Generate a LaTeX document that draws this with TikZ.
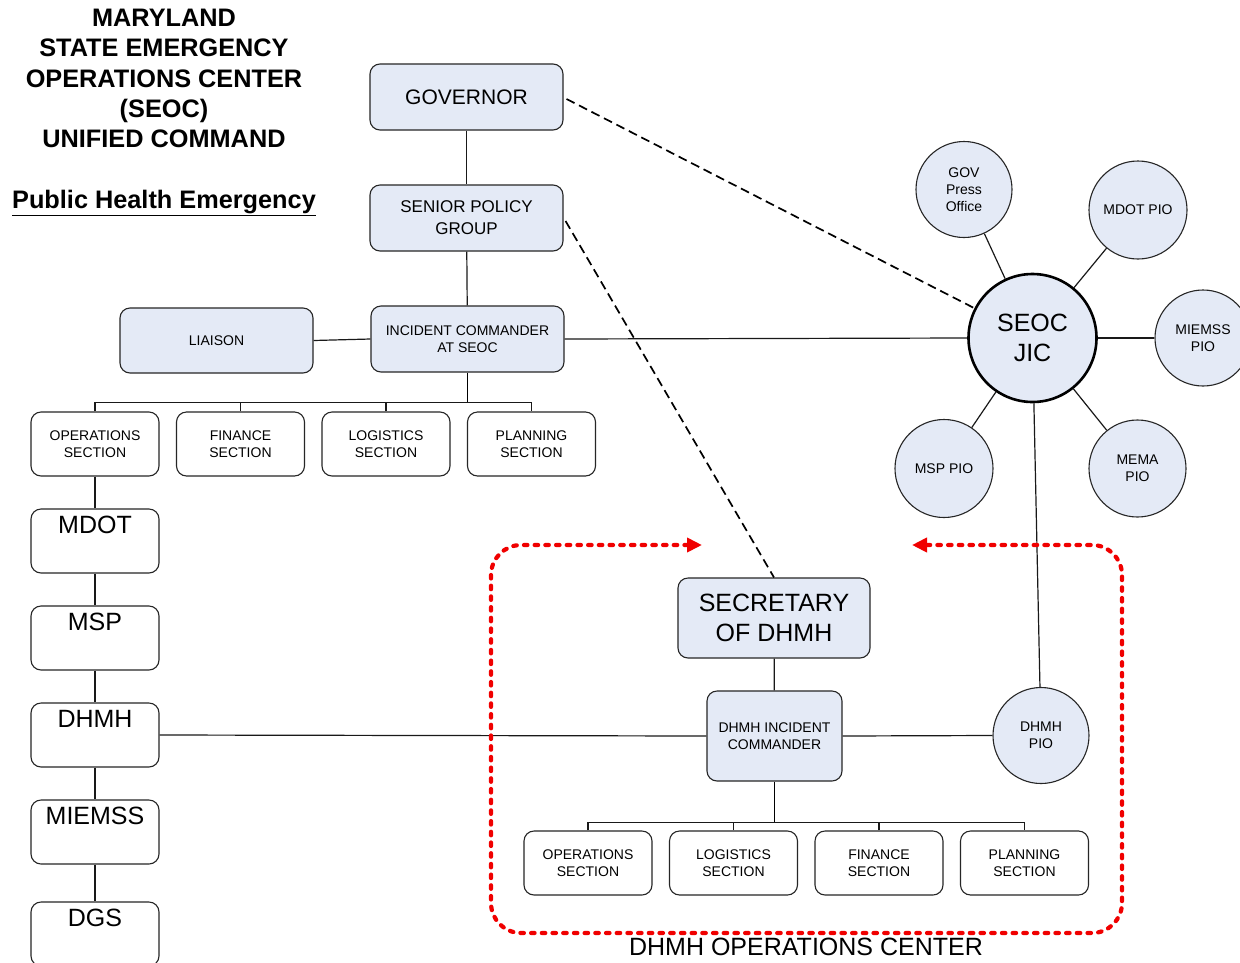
\documentclass[tikz,border=0pt]{standalone}
\usepackage{fontspec}
\setmainfont{Liberation Sans}
\usetikzlibrary{arrows.meta,calc}
\definecolor{lb}{RGB}{228,234,246}
\definecolor{rd}{RGB}{240,0,0}
\begin{document}
\begin{tikzpicture}[x=1pt,y=-1pt,
  bluebox/.style={draw=black!85,line width=1.1pt,rounded corners=10pt,fill=lb,align=center,inner sep=0pt},
  whitebox/.style={draw=black!85,line width=1.1pt,rounded corners=10pt,fill=white,align=center,inner sep=0pt,minimum width=128pt,minimum height=64pt,font=\fontsize{14}{17}\selectfont},
  agency/.style={draw=black!85,line width=1.1pt,rounded corners=10pt,fill=white,inner sep=0pt,minimum width=128pt,minimum height=64pt},
  pio/.style={draw=black!85,line width=1.1pt,circle,fill=lb,align=center,inner sep=0pt,font=\fontsize{14}{17}\selectfont},
  conn/.style={draw=black!90,line width=1.2pt},
  busline/.style={draw=black,line width=1.8pt},
  dashlink/.style={draw=black,line width=1.7pt,dash pattern=on 9pt off 5pt},
  reddot/.style={draw=rd,line width=4.2pt,line cap=round,dash pattern=on 3.5pt off 7.2pt,rounded corners=30pt}
]
\useasboundingbox (0,0) rectangle (1240,962);
\fill[white] (0,0) rectangle (1240,962);

% Title
\node[anchor=north,inner sep=0pt,align=center,font=\fontsize{25.3}{30.3}\selectfont\bfseries] (title) at (164,9)
  {MARYLAND\\STATE EMERGENCY\\OPERATIONS CENTER\\(SEOC)\\UNIFIED COMMAND};
\node[anchor=base,inner sep=0pt,font=\fontsize{25.3}{28}\selectfont\bfseries] (phe) at (164,208) {\underline{Public Health Emergency}};

% Top command
\node[bluebox,minimum width=193pt,minimum height=66pt,font=\fontsize{21}{25}\selectfont] (gov) at (466.5,97) {GOVERNOR};
\node[bluebox,minimum width=193pt,minimum height=66pt,font=\fontsize{17}{22}\selectfont] (spg) at (466.5,218) {SENIOR POLICY\\GROUP};
\node[bluebox,minimum width=193pt,minimum height=66pt,font=\fontsize{14}{17}\selectfont] (ic) at (467.5,339) {INCIDENT COMMANDER\\AT SEOC};
\node[bluebox,minimum width=193pt,minimum height=65pt,font=\fontsize{14}{17}\selectfont] (liaison) at (216.5,340.5) {LIAISON};

% Sections SEOC
\node[whitebox] (ops1) at (95,444) {OPERATIONS\\SECTION};
\node[whitebox] (fin1) at (240.5,444) {FINANCE\\SECTION};
\node[whitebox] (log1) at (386,444) {LOGISTICS\\SECTION};
\node[whitebox] (plan1) at (531.5,444) {PLANNING\\SECTION};

% Agencies
\foreach \nm/\lab/\yy in {mdot/MDOT/541,msp/MSP/638,dhmh/DHMH/735,miemss/MIEMSS/832,dgs/DGS/934}{
  \node[agency,label={[anchor=north,yshift=-4pt,font=\fontsize{25}{30}\selectfont]north:\lab}] (\nm) at (95,\yy) {};
}

% JIC
\node[draw=black,line width=2.6pt,circle,fill=lb,align=center,inner sep=0pt,minimum size=128pt,font=\fontsize{25}{30}\selectfont] (seoc) at (1032.5,338) {SEOC\\JIC};
\node[pio,minimum size=96pt] (govp) at (964,189.5) {GOV\\Press\\Office};
\node[pio,minimum size=98pt] (mdotp) at (1138,210) {MDOT PIO};
\node[pio,minimum size=96pt] (miemssp) at (1203,338) {MIEMSS\\PIO};
\node[pio,minimum size=98pt] (mspp) at (944,468.5) {MSP PIO};
\node[pio,minimum size=97pt] (memap) at (1137.5,468.5) {MEMA\\PIO};
\node[pio,minimum size=96pt] (dhmhp) at (1041,735.5) {DHMH\\PIO};

% DHMH ops center
\node[bluebox,minimum width=192pt,minimum height=80pt,font=\fontsize{25}{30}\selectfont] (sec) at (774,618) {SECRETARY\\OF DHMH};
\node[bluebox,minimum width=135pt,minimum height=90pt,font=\fontsize{14}{17}\selectfont] (dic) at (774.5,736) {DHMH INCIDENT\\COMMANDER};
\node[whitebox] (ops2) at (588,863) {OPERATIONS\\SECTION};
\node[whitebox] (log2) at (733.5,863) {LOGISTICS\\SECTION};
\node[whitebox] (fin2) at (879,863) {FINANCE\\SECTION};
\node[whitebox] (plan2) at (1024.5,863) {PLANNING\\SECTION};
\node[anchor=base,inner sep=0pt,font=\fontsize{25}{30}\selectfont] (doc) at (806,955) {DHMH OPERATIONS CENTER};

% Connectors top
\draw[conn] (gov) -- (spg);
\draw[conn] (spg) -- (ic);
\draw[conn] (liaison.east) -- (ic.west);
\draw[conn] (ic.east) -- (seoc.west);
\draw[busline] (ic.south) -- ($(ic.south |- ops1.north)+(0,-9)$);
\draw[conn] (ops1.north) -- ++(0,-9) -| (plan1.north);
\draw[conn] (fin1.north) -- ++(0,-9);
\draw[conn] (log1.north) -- ++(0,-9);

% Agencies chain
\draw[conn] (ops1) -- (mdot);
\draw[conn] (mdot) -- (msp);
\draw[conn] (msp) -- (dhmh);
\draw[conn] (dhmh) -- (miemss);
\draw[conn] (miemss) -- (dgs);
\draw[conn] (dhmh.east) -- (dic.west);

% JIC spokes
\draw[conn] (seoc) -- (govp);
\draw[conn] (seoc) -- (mdotp);
\draw[conn] (seoc) -- (miemssp);
\draw[conn] (seoc) -- (mspp);
\draw[conn] (seoc) -- (memap);
\draw[conn] (seoc) -- (dhmhp);

% Dashed links
\draw[dashlink] ($(gov.east)+(3,2)$) -- (seoc);
\draw[dashlink] ($(spg.east)+(2,3)$) -- (sec.north);

% DHMH structure
\draw[conn] (sec) -- (dic);
\draw[conn] (dic.east) -- (dhmhp.west);
\draw[busline] (dic.south) -- ($(dic.south |- ops2.north)+(0,-8)$);
\draw[conn] (ops2.north) -- ++(0,-8) -| (plan2.north);
\draw[conn] (log2.north) -- ++(0,-8);
\draw[conn] (fin2.north) -- ++(0,-8);

% Red dotted boundary with arrows
\coordinate (ra) at (702,545);
\coordinate (rb) at (912,545);
\draw[reddot,{Triangle[length=15pt,width=14pt,line cap=butt]}-{Triangle[length=15pt,width=14pt,line cap=butt]}]
  (ra) -- (491,545) -- (491,933) -- (1122,933) -- (1122,545) -- (rb);
\end{tikzpicture}
\end{document}
